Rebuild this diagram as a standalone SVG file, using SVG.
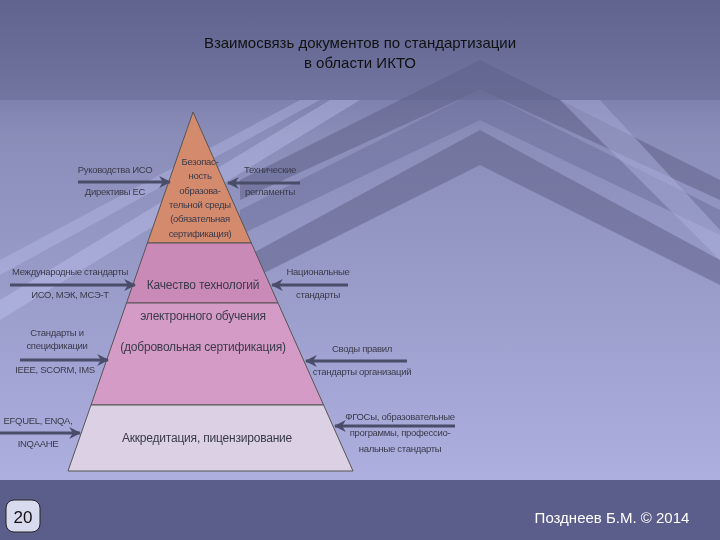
<svg xmlns="http://www.w3.org/2000/svg" width="720" height="540" viewBox="0 0 720 540">
<defs>
<linearGradient id="bg" x1="0" y1="0" x2="0" y2="1">
<stop offset="0" stop-color="#5e628f"/><stop offset="0.25" stop-color="#8a8db8"/><stop offset="1" stop-color="#b3b6e6"/>
</linearGradient>
<marker id="ah" viewBox="0 0 10 10" refX="9" refY="5" markerWidth="4" markerHeight="4" orient="auto"><path d="M0,0 L10,5 L0,10 L3,5 z" fill="#4a4d6a"/></marker>
<style>
text{font-family:"Liberation Sans",Arial,sans-serif;fill:#3a3a4a;text-anchor:middle}
.s{font-size:9.5px;letter-spacing:-0.3px}
.p{font-size:12px;letter-spacing:-0.2px}
.c{stroke:#4a4d6a;stroke-width:3;marker-end:url(#ah)}
.t{font-size:15px;fill:#111}
</style>
</defs>
<rect width="720" height="540" fill="url(#bg)"/>
<g id="deco" opacity="0.5">
<polygon points="480,60 720,180 720,200 480,90 240,200 240,180" fill="#5a5d85"/>
<polygon points="480,90 720,210 720,235 480,120 240,235 240,210" fill="#6a6d98"/>
<polygon points="480,130 720,260 720,285 480,165 240,285 240,260" fill="#5a5d85"/>
<polygon points="0,300 330,100 360,100 0,320" fill="#d0d4ff" opacity="0.6"/>
<polygon points="0,260 300,100 320,100 0,275" fill="#d0d4ff" opacity="0.5"/>
<polygon points="900,440 560,100 600,100 720,230 720,260" fill="#c8ccf8" opacity="0.5"/>
</g>
<rect y="0" width="720" height="100" fill="#62658f" opacity="0.45"/>
<rect y="480" width="720" height="60" fill="#5b5e8a"/>
<g id="title">
<text class="t" x="360" y="48">Взаимосвязь документов по стандартизации</text>
<text class="t" x="360" y="68">в области ИКТО</text>
</g>
<g id="pyramid" stroke="#555" stroke-width="1">
<polygon points="193,112 147.4,243 251.3,243" fill="#d48a6c"/>
<polygon points="147.4,243 251.3,243 278,303 126.5,303" fill="#c98ab8"/>
<polygon points="126.5,303 278,303 323.6,405 91,405" fill="#d49bc7"/>
<polygon points="91,405 323.6,405 353,471 68,471" fill="#dcd0e4"/>
</g>
<g id="labels-pyramid">
<text class="s" x="200" y="165">Безопас-</text>
<text class="s" x="200" y="179">ность</text>
<text class="s" x="200" y="194">образова-</text>
<text class="s" x="200" y="208">тельной среды</text>
<text class="s" x="200" y="222">(обязательная</text>
<text class="s" x="200" y="237">сертификация)</text>
<text class="p" x="203" y="289">Качество технологий</text>
<text class="p" x="203" y="320">электронного обучения</text>
<text class="p" x="203" y="351">(добровольная сертификация)</text>
<text class="p" x="207" y="442">Аккредитация, пицензирование</text>
</g>
<g id="connectors">
<line class="c" x1="78" y1="182" x2="170" y2="182"/>
<line class="c" x1="300" y1="183" x2="228" y2="183"/>
<line class="c" x1="10" y1="285" x2="135" y2="285"/>
<line class="c" x1="348" y1="285" x2="272" y2="285"/>
<line class="c" x1="20" y1="360" x2="108" y2="360"/>
<line class="c" x1="407" y1="361" x2="306" y2="361"/>
<line class="c" x1="0" y1="433" x2="80" y2="433"/>
<line class="c" x1="455" y1="426" x2="335" y2="426"/>
</g>
<g id="labels-side">
<text class="s" x="115" y="173">Руководства ИСО</text>
<text class="s" x="115" y="195">Директивы ЕС</text>
<text class="s" x="270" y="173">Технические</text>
<text class="s" x="270" y="195">регламенты</text>
<text class="s" x="70" y="275">Международные стандарты</text>
<text class="s" x="70" y="298">ИСО, МЭК, МСЭ-Т</text>
<text class="s" x="318" y="275">Национальные</text>
<text class="s" x="318" y="298">стандарты</text>
<text class="s" x="57" y="336">Стандарты и</text>
<text class="s" x="57" y="349">спецификации</text>
<text class="s" x="55" y="373">IEEE, SCORM, IMS</text>
<text class="s" x="362" y="352">Своды правил</text>
<text class="s" x="362" y="375">стандарты организаций</text>
<text class="s" x="38" y="424">EFQUEL, ENQA,</text>
<text class="s" x="38" y="447">INQAAHE</text>
<text class="s" x="400" y="420">ФГОСы, образовательные</text>
<text class="s" x="400" y="436">программы, профессио-</text>
<text class="s" x="400" y="452">нальные стандарты</text>
</g>
<g id="footer">
<rect x="6" y="500" width="34" height="32" rx="8" fill="#d8daee" stroke="#222"/>
<text x="23" y="523" style="font-size:17px;fill:#111">20</text>
<text x="612" y="523" style="font-size:15px;fill:#fff">Позднеев Б.М. © 2014</text>
</g>
</svg>
